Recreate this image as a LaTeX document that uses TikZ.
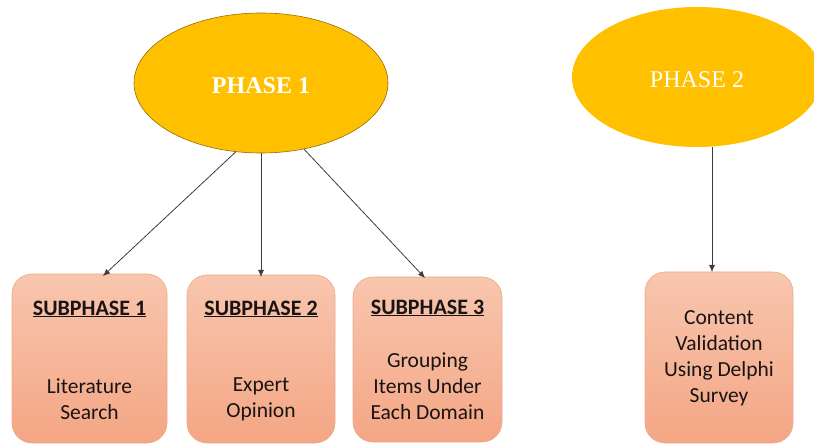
\documentclass[tikz,border=0pt]{standalone}
\usepackage{fontspec}
\setmainfont{Carlito}
\newfontfamily\serifphase{Liberation Serif}
\usetikzlibrary{shapes.geometric,arrows.meta,calc}

\definecolor{gold}{RGB}{255,192,0}
\definecolor{goldedge}{RGB}{150,110,10}
\definecolor{salmontop}{RGB}{248,198,174}
\definecolor{salmonbot}{RGB}{244,166,132}
\definecolor{salmonedge}{RGB}{236,170,140}
\definecolor{arrowgray}{RGB}{60,60,60}
\definecolor{inktext}{RGB}{25,20,20}

\tikzset{
  phase/.style={ellipse, fill=gold, inner sep=0pt, outer sep=0pt,
    text=white, text height=22pt, font=\serifphase\fontsize{24}{28}\selectfont},
  stagebox/.style={rectangle, rounded corners=20pt, inner sep=0pt, outer sep=0pt,
    top color=salmontop, bottom color=salmonbot, draw=salmonedge, line width=0.6pt},
  boxtitle/.style={font=\bfseries\fontsize{22}{26}\selectfont, text=inktext},
  boxtext/.style={align=center, font=\fontsize{21.5}{26}\selectfont, text=inktext},
  arr/.style={draw=arrowgray, line width=0.8pt, -{Latex[length=7pt,width=6pt]}}
}

\begin{document}
\begin{tikzpicture}[x=1pt,y=-1pt]
  \useasboundingbox (0,0) rectangle (814,446);
  \clip (0,0) rectangle (814,446);

  % phase ellipses
  \node[phase, draw=goldedge, line width=0.6pt, minimum width=254pt, minimum height=140pt]
    (p1) at (261,83) {\bfseries PHASE 1};
  \node[phase, minimum width=250pt, minimum height=140pt]
    (p2) at (697,77) {PHASE 2};

  % stage boxes
  \node[stagebox, minimum width=155pt, minimum height=169pt] (s1) at (89.5,358.5) {};
  \node[stagebox, minimum width=148pt, minimum height=168pt] (s2) at (261,359) {};
  \node[stagebox, minimum width=149pt, minimum height=165pt] (s3) at (427.5,359.5) {};
  \node[stagebox, minimum width=148pt, minimum height=171pt] (s4) at (719,357.5) {};

  % box texts
  \node[boxtitle] (t1) at (89.5,309) {\underline{SUBPHASE 1}};
  \node[boxtitle] (t2) at (261,309) {\underline{SUBPHASE 2}};
  \node[boxtitle] (t3) at (427.5,308) {\underline{SUBPHASE 3}};
  \node[boxtext] (b1) at (89.5,399.5) {Literature\\Search};
  \node[boxtext] (b2) at (261,399.5) {Expert\\Opinion};
  \node[boxtext] (b3) at (427.5,386.5) {Grouping\\Items Under\\Each Domain};
  \node[boxtext] (b4) at (719,358.5) {Content\\Validation\\Using Delphi\\Survey};

  % connectors
  \draw[arr] (p1.250) -- ($(s1.north)+(13.5,2)$);
  \draw[arr] (p1.south) -- ($(s2.north)+(0,2)$);
  \draw[arr] (p1.303) -- ($(s3.north)+(-2.5,1)$);
  \draw[arr] ($(p2.south)+(15,0)$) -- ($(s4.north)+(-7,0)$);
\end{tikzpicture}
\end{document}
